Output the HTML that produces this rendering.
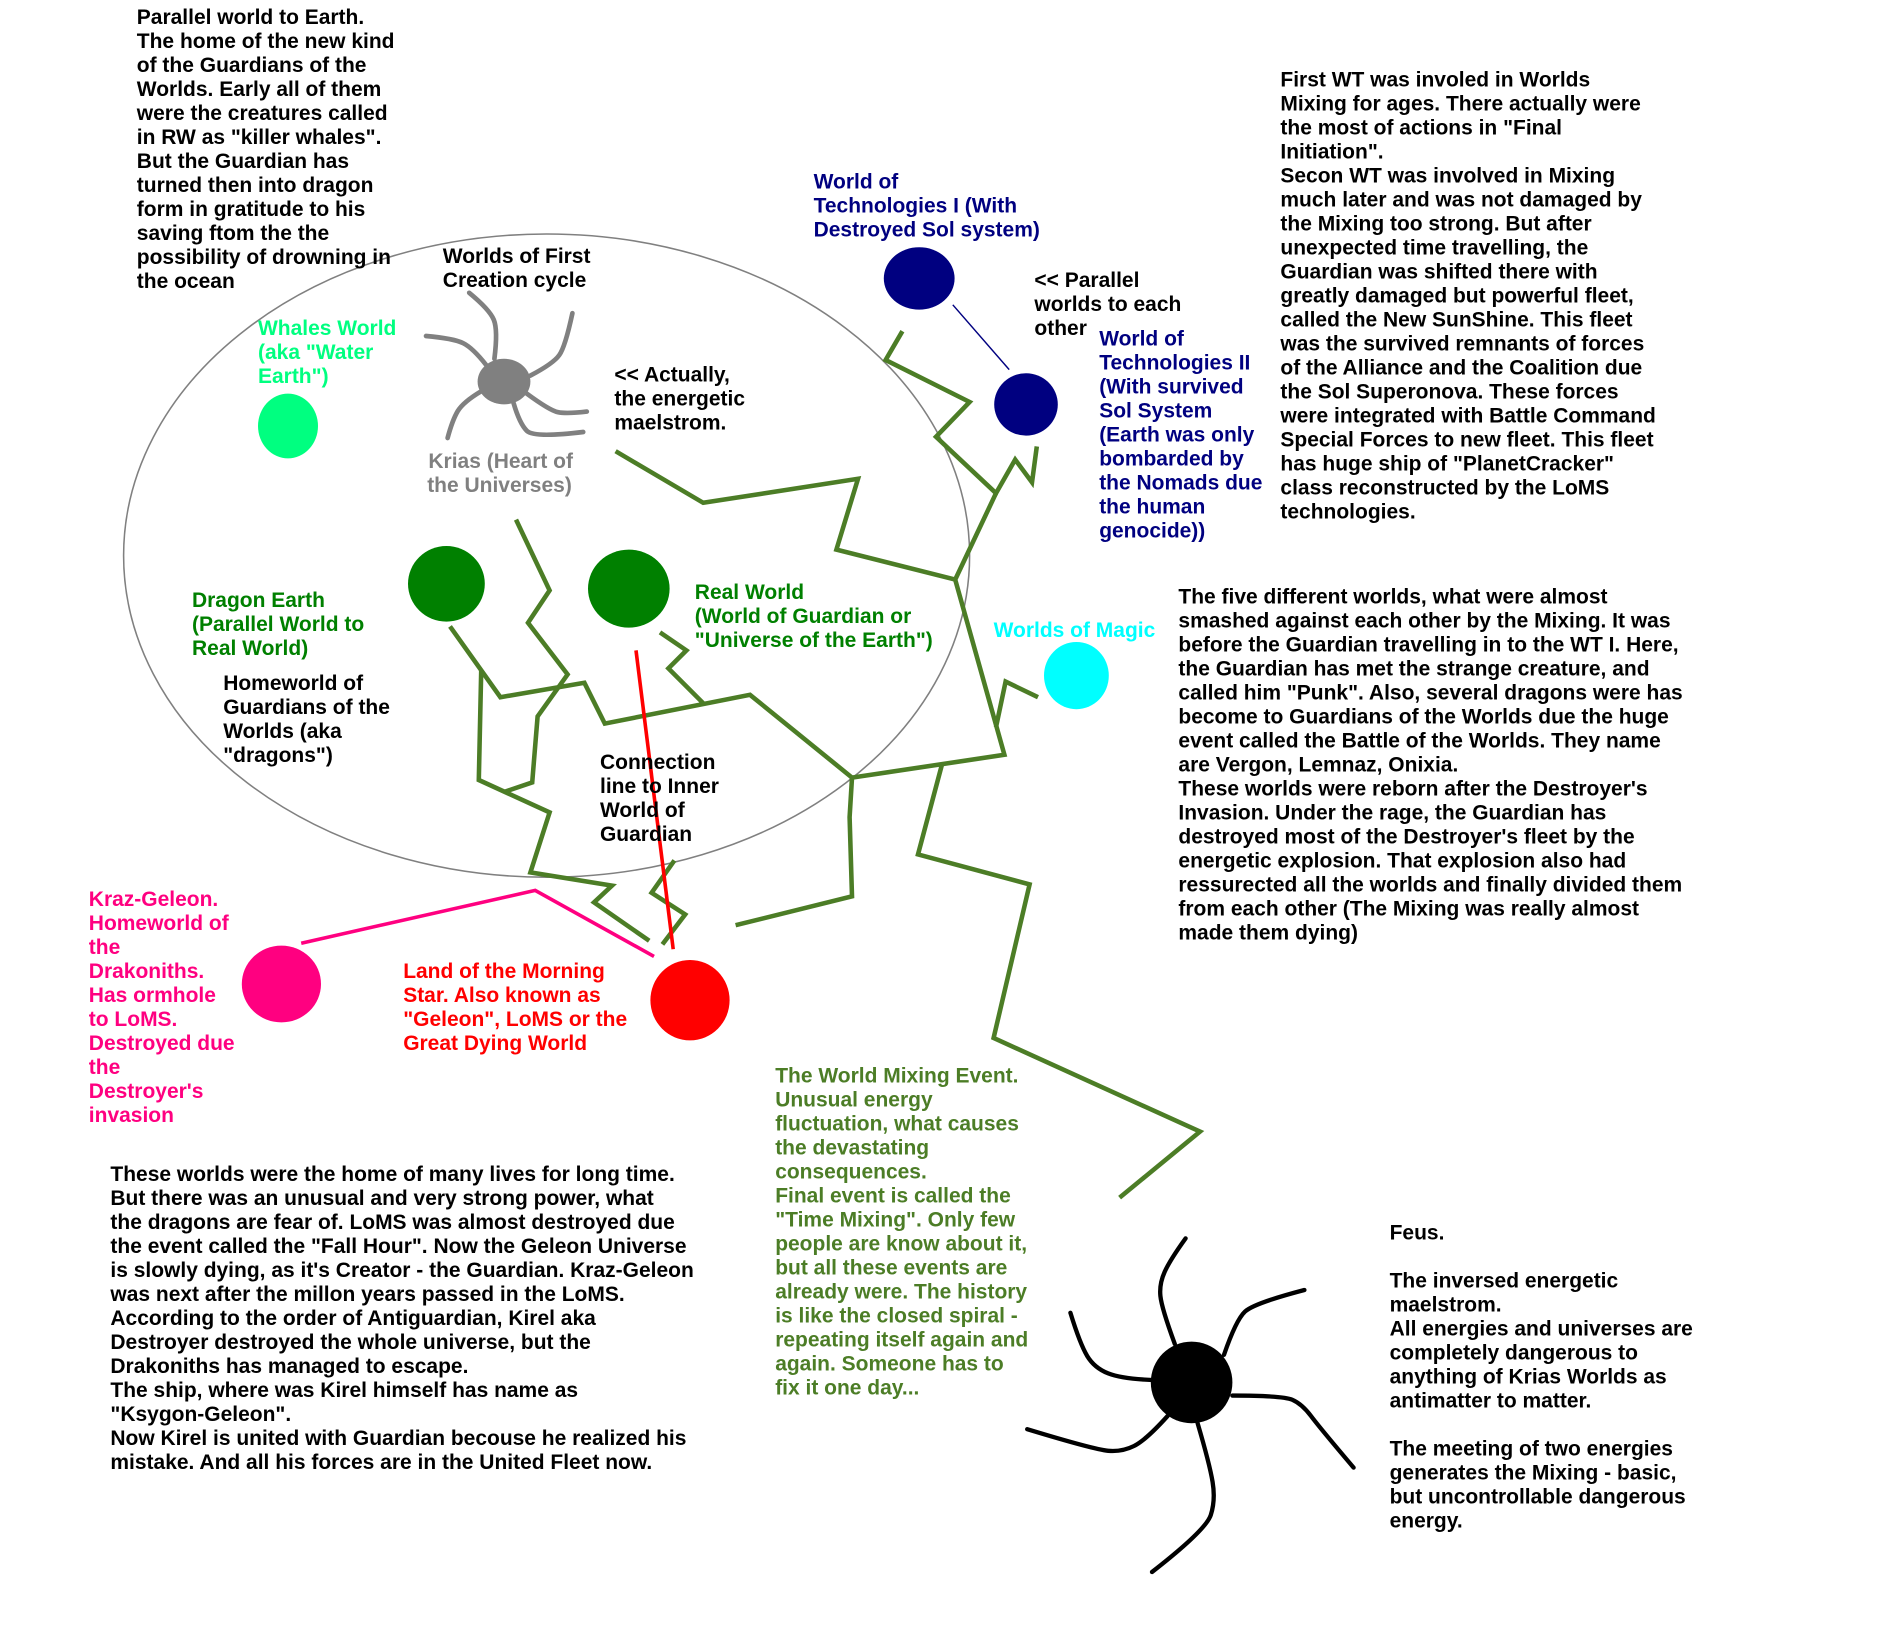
<!DOCTYPE html>
<html>
<head>
<meta charset="utf-8">
<style>
html,body{margin:0;padding:0;background:#fff;}
svg{display:block;}
text{font-family:"Liberation Sans",Arial,sans-serif;font-weight:bold;font-size:17.5px;}
</style>
</head>
<body>
<svg width="1885" height="1634" viewBox="0 0 1570.83 1361.67" xmlns="http://www.w3.org/2000/svg">
<rect x="0" y="0" width="1570.83" height="1361.67" fill="#fff"/>

<!-- big ellipse -->
<ellipse cx="455.5" cy="463" rx="352.5" ry="268" fill="none" stroke="#808080" stroke-width="1.3"/>

<!-- Krias spider -->
<g fill="none" stroke="#808080" stroke-width="3.9" stroke-linecap="round" stroke-linejoin="round">
<path d="M412 299 Q415 275 411.5 266.5 Q408 258 391 244"/>
<path d="M442 313 Q461 303 466 296 Q471 289 477 261"/>
<path d="M405 304 Q394 290 386 286 Q378 282 355 280"/>
<path d="M401 326 Q386 335 381.5 342.5 Q377 350 373 365"/>
<path d="M439 328 Q458 342 465 343.5 Q472 345 489 343"/>
<path d="M428 336 Q433 353 439 359 Q445 365 486 360"/>
</g>
<ellipse cx="420" cy="318" rx="22" ry="19" fill="#808080"/>

<!-- green energy lines -->
<g fill="none" stroke="#4c7d26" stroke-width="3.8" stroke-linejoin="miter" stroke-linecap="butt">
<polyline points="752,276 738,300 808,335 780,364 830,411 846,383 860,402 864,372"/>
<polyline points="513,376 586,419 715,399 697,458 796,483"/>
<polyline points="830,411 796,483 837,629 710,648 625,579 504,603 487,569 417,581 375,522"/>
<polyline points="830,606 838,568 865,581"/>
<polyline points="710,648 708,681 710,747 613,771"/>
<polyline points="785,637 765,712 858,737 828,865 1000,943 933,998"/>
<polyline points="550,527 572,542 557,557 586,586"/>
<polyline points="430,433 458,492 440,519 473,562 448,597 443.5,652 420,660"/>
<polyline points="401,559 399,650 458,677 442,727 510,738 495,752 541,784"/>
<polyline points="562,717 543,744 571,762 552,787"/>
</g>

<!-- red connection line -->
<line x1="530" y1="542" x2="561" y2="791" stroke="#ff0000" stroke-width="3"/>
<!-- pink line -->
<polyline points="251,786 446,742 545,797" fill="none" stroke="#ff0080" stroke-width="3"/>
<!-- navy thin line -->
<line x1="794" y1="254" x2="841" y2="308" stroke="#000080" stroke-width="1.2"/>

<!-- circles -->
<ellipse cx="240" cy="355" rx="25" ry="27" fill="#00ff80"/>
<ellipse cx="766" cy="232" rx="29.5" ry="26" fill="#000080"/>
<ellipse cx="855" cy="337" rx="26.5" ry="26" fill="#000080"/>
<ellipse cx="372" cy="486.5" rx="32" ry="31.5" fill="#008000"/>
<ellipse cx="524" cy="490.5" rx="34" ry="32.5" fill="#008000"/>
<ellipse cx="897" cy="563" rx="27" ry="28" fill="#00ffff"/>
<ellipse cx="234.5" cy="820" rx="33" ry="32" fill="#ff0080"/>
<ellipse cx="575" cy="833.5" rx="33" ry="33.5" fill="#ff0000"/>

<!-- Feus spider -->
<g fill="none" stroke="#000" stroke-width="3.6" stroke-linecap="round" stroke-linejoin="round">
<path d="M979 1120 Q968 1090 967 1080 Q966 1070 970.5 1060 Q975 1050 988 1032"/>
<path d="M1020 1129 Q1030 1100 1037.5 1093 Q1045 1086 1087 1075"/>
<path d="M960 1150 Q935 1149 923.5 1144.5 Q912 1140 906 1130 Q900 1120 892 1094"/>
<path d="M1027 1163 Q1069 1163 1077 1166.5 Q1085 1170 1092.5 1180 Q1100 1190 1128 1223"/>
<path d="M973 1180 Q955 1200 945 1205 Q935 1210 923.5 1209 Q912 1208 856 1191"/>
<path d="M998 1186 Q1008 1220 1010.5 1235 Q1013 1250 1009 1262.5 Q1005 1275 960 1310"/>
</g>
<ellipse cx="993" cy="1152" rx="34" ry="34" fill="#000"/>

<!-- texts -->
<text fill="#000">
<tspan x="114" y="20">Parallel world to Earth.</tspan>
<tspan x="114" dy="20">The home of the new kind</tspan>
<tspan x="114" dy="20">of the Guardians of the</tspan>
<tspan x="114" dy="20">Worlds. Early all of them</tspan>
<tspan x="114" dy="20">were the creatures called</tspan>
<tspan x="114" dy="20">in RW as "killer whales".</tspan>
<tspan x="114" dy="20">But the Guardian has</tspan>
<tspan x="114" dy="20">turned then into dragon</tspan>
<tspan x="114" dy="20">form in gratitude to his</tspan>
<tspan x="114" dy="20">saving ftom the the</tspan>
<tspan x="114" dy="20">possibility of drowning in</tspan>
<tspan x="114" dy="20">the ocean</tspan>
</text>

<text fill="#000">
<tspan x="369" y="219">Worlds of First</tspan>
<tspan x="369" dy="20">Creation cycle</tspan>
</text>

<text fill="#00ff80">
<tspan x="215" y="279">Whales World</tspan>
<tspan x="215" dy="20">(aka "Water</tspan>
<tspan x="215" dy="20">Earth")</tspan>
</text>

<text fill="#808080">
<tspan x="357" y="390">Krias (Heart of</tspan>
<tspan x="356" dy="20">the Universes)</tspan>
</text>

<text fill="#000">
<tspan x="512" y="318">&lt;&lt; Actually,</tspan>
<tspan x="512" dy="20">the energetic</tspan>
<tspan x="512" dy="20">maelstrom.</tspan>
</text>

<text fill="#000080">
<tspan x="678" y="157">World of</tspan>
<tspan x="678" dy="20">Technologies I (With</tspan>
<tspan x="678" dy="20">Destroyed Sol system)</tspan>
</text>

<text fill="#000">
<tspan x="862" y="239">&lt;&lt; Parallel</tspan>
<tspan x="862" dy="20">worlds to each</tspan>
<tspan x="862" dy="20">other</tspan>
</text>

<text fill="#000080">
<tspan x="916" y="288">World of</tspan>
<tspan x="916" dy="20">Technologies II</tspan>
<tspan x="916" dy="20">(With survived</tspan>
<tspan x="916" dy="20">Sol System</tspan>
<tspan x="916" dy="20">(Earth was only</tspan>
<tspan x="916" dy="20">bombarded by</tspan>
<tspan x="916" dy="20">the Nomads due</tspan>
<tspan x="916" dy="20">the human</tspan>
<tspan x="916" dy="20">genocide))</tspan>
</text>

<text fill="#000">
<tspan x="1067" y="72">First WT was involed in Worlds</tspan>
<tspan x="1067" dy="20">Mixing for ages. There actually were</tspan>
<tspan x="1067" dy="20">the most of actions in "Final</tspan>
<tspan x="1067" dy="20">Initiation".</tspan>
<tspan x="1067" dy="20">Secon WT was involved in Mixing</tspan>
<tspan x="1067" dy="20">much later and was not damaged by</tspan>
<tspan x="1067" dy="20">the Mixing too strong. But after</tspan>
<tspan x="1067" dy="20">unexpected time travelling, the</tspan>
<tspan x="1067" dy="20">Guardian was shifted there with</tspan>
<tspan x="1067" dy="20">greatly damaged but powerful fleet,</tspan>
<tspan x="1067" dy="20">called the New SunShine. This fleet</tspan>
<tspan x="1067" dy="20">was the survived remnants of forces</tspan>
<tspan x="1067" dy="20">of the Alliance and the Coalition due</tspan>
<tspan x="1067" dy="20">the Sol Superonova. These forces</tspan>
<tspan x="1067" dy="20">were integrated with Battle Command</tspan>
<tspan x="1067" dy="20">Special Forces to new fleet. This fleet</tspan>
<tspan x="1067" dy="20">has huge ship of "PlanetCracker"</tspan>
<tspan x="1067" dy="20">class reconstructed by the LoMS</tspan>
<tspan x="1067" dy="20">technologies.</tspan>
</text>

<text fill="#008000">
<tspan x="160" y="506">Dragon Earth</tspan>
<tspan x="160" dy="20">(Parallel World to</tspan>
<tspan x="160" dy="20">Real World)</tspan>
</text>

<text fill="#000">
<tspan x="186" y="575">Homeworld of</tspan>
<tspan x="186" dy="20">Guardians of the</tspan>
<tspan x="186" dy="20">Worlds (aka</tspan>
<tspan x="186" dy="20">"dragons")</tspan>
</text>

<text fill="#008000">
<tspan x="579" y="499">Real World</tspan>
<tspan x="579" dy="20">(World of Guardian or</tspan>
<tspan x="579" dy="20">"Universe of the Earth")</tspan>
</text>

<text fill="#00ffff" x="828" y="531">Worlds of Magic</text>

<text fill="#000">
<tspan x="500" y="641">Connection</tspan>
<tspan x="500" dy="20">line to Inner</tspan>
<tspan x="500" dy="20">World of</tspan>
<tspan x="500" dy="20">Guardian</tspan>
</text>

<text fill="#000">
<tspan x="982" y="503">The five different worlds, what were almost</tspan>
<tspan x="982" dy="20">smashed against each other by the Mixing. It was</tspan>
<tspan x="982" dy="20">before the Guardian travelling in to the WT I. Here,</tspan>
<tspan x="982" dy="20">the Guardian has met the strange creature, and</tspan>
<tspan x="982" dy="20">called him "Punk". Also, several dragons were has</tspan>
<tspan x="982" dy="20">become to Guardians of the Worlds due the huge</tspan>
<tspan x="982" dy="20">event called the Battle of the Worlds. They name</tspan>
<tspan x="982" dy="20">are Vergon, Lemnaz, Onixia.</tspan>
<tspan x="982" dy="20">These worlds were reborn after the Destroyer's</tspan>
<tspan x="982" dy="20">Invasion. Under the rage, the Guardian has</tspan>
<tspan x="982" dy="20">destroyed most of the Destroyer's fleet by the</tspan>
<tspan x="982" dy="20">energetic explosion. That explosion also had</tspan>
<tspan x="982" dy="20">ressurected all the worlds and finally divided them</tspan>
<tspan x="982" dy="20">from each other (The Mixing was really almost</tspan>
<tspan x="982" dy="20">made them dying)</tspan>
</text>

<text fill="#ff0080">
<tspan x="74" y="755">Kraz-Geleon.</tspan>
<tspan x="74" dy="20">Homeworld of</tspan>
<tspan x="74" dy="20">the</tspan>
<tspan x="74" dy="20">Drakoniths.</tspan>
<tspan x="74" dy="20">Has ormhole</tspan>
<tspan x="74" dy="20">to LoMS.</tspan>
<tspan x="74" dy="20">Destroyed due</tspan>
<tspan x="74" dy="20">the</tspan>
<tspan x="74" dy="20">Destroyer's</tspan>
<tspan x="74" dy="20">invasion</tspan>
</text>

<text fill="#ff0000">
<tspan x="336" y="815">Land of the Morning</tspan>
<tspan x="336" dy="20">Star. Also known as</tspan>
<tspan x="336" dy="20">"Geleon", LoMS or the</tspan>
<tspan x="336" dy="20">Great Dying World</tspan>
</text>

<text fill="#000">
<tspan x="92" y="984">These worlds were the home of many lives for long time.</tspan>
<tspan x="92" dy="20">But there was an unusual and very strong power, what</tspan>
<tspan x="92" dy="20">the dragons are fear of. LoMS was almost destroyed due</tspan>
<tspan x="92" dy="20">the event called the "Fall Hour". Now the Geleon Universe</tspan>
<tspan x="92" dy="20">is slowly dying, as it's Creator - the Guardian. Kraz-Geleon</tspan>
<tspan x="92" dy="20">was next after the millon years passed in the LoMS.</tspan>
<tspan x="92" dy="20">According to the order of Antiguardian, Kirel aka</tspan>
<tspan x="92" dy="20">Destroyer destroyed the whole universe, but the</tspan>
<tspan x="92" dy="20">Drakoniths has managed to escape.</tspan>
<tspan x="92" dy="20">The ship, where was Kirel himself has name as</tspan>
<tspan x="92" dy="20">"Ksygon-Geleon".</tspan>
<tspan x="92" dy="20">Now Kirel is united with Guardian becouse he realized his</tspan>
<tspan x="92" dy="20">mistake. And all his forces are in the United Fleet now.</tspan>
</text>

<text fill="#4c7d26">
<tspan x="646" y="902">The World Mixing Event.</tspan>
<tspan x="646" dy="20">Unusual energy</tspan>
<tspan x="646" dy="20">fluctuation, what causes</tspan>
<tspan x="646" dy="20">the devastating</tspan>
<tspan x="646" dy="20">consequences.</tspan>
<tspan x="646" dy="20">Final event is called the</tspan>
<tspan x="646" dy="20">"Time Mixing". Only few</tspan>
<tspan x="646" dy="20">people are know about it,</tspan>
<tspan x="646" dy="20">but all these events are</tspan>
<tspan x="646" dy="20">already were. The history</tspan>
<tspan x="646" dy="20">is like the closed spiral -</tspan>
<tspan x="646" dy="20">repeating itself again and</tspan>
<tspan x="646" dy="20">again. Someone has to</tspan>
<tspan x="646" dy="20">fix it one day...</tspan>
</text>

<text fill="#000">
<tspan x="1158" y="1033">Feus.</tspan>
<tspan x="1158" y="1073">The inversed energetic</tspan>
<tspan x="1158" dy="20">maelstrom.</tspan>
<tspan x="1158" dy="20">All energies and universes are</tspan>
<tspan x="1158" dy="20">completely dangerous to</tspan>
<tspan x="1158" dy="20">anything of Krias Worlds as</tspan>
<tspan x="1158" dy="20">antimatter to matter.</tspan>
<tspan x="1158" y="1213">The meeting of two energies</tspan>
<tspan x="1158" dy="20">generates the Mixing - basic,</tspan>
<tspan x="1158" dy="20">but uncontrollable dangerous</tspan>
<tspan x="1158" dy="20">energy.</tspan>
</text>
</svg>
</body>
</html>
